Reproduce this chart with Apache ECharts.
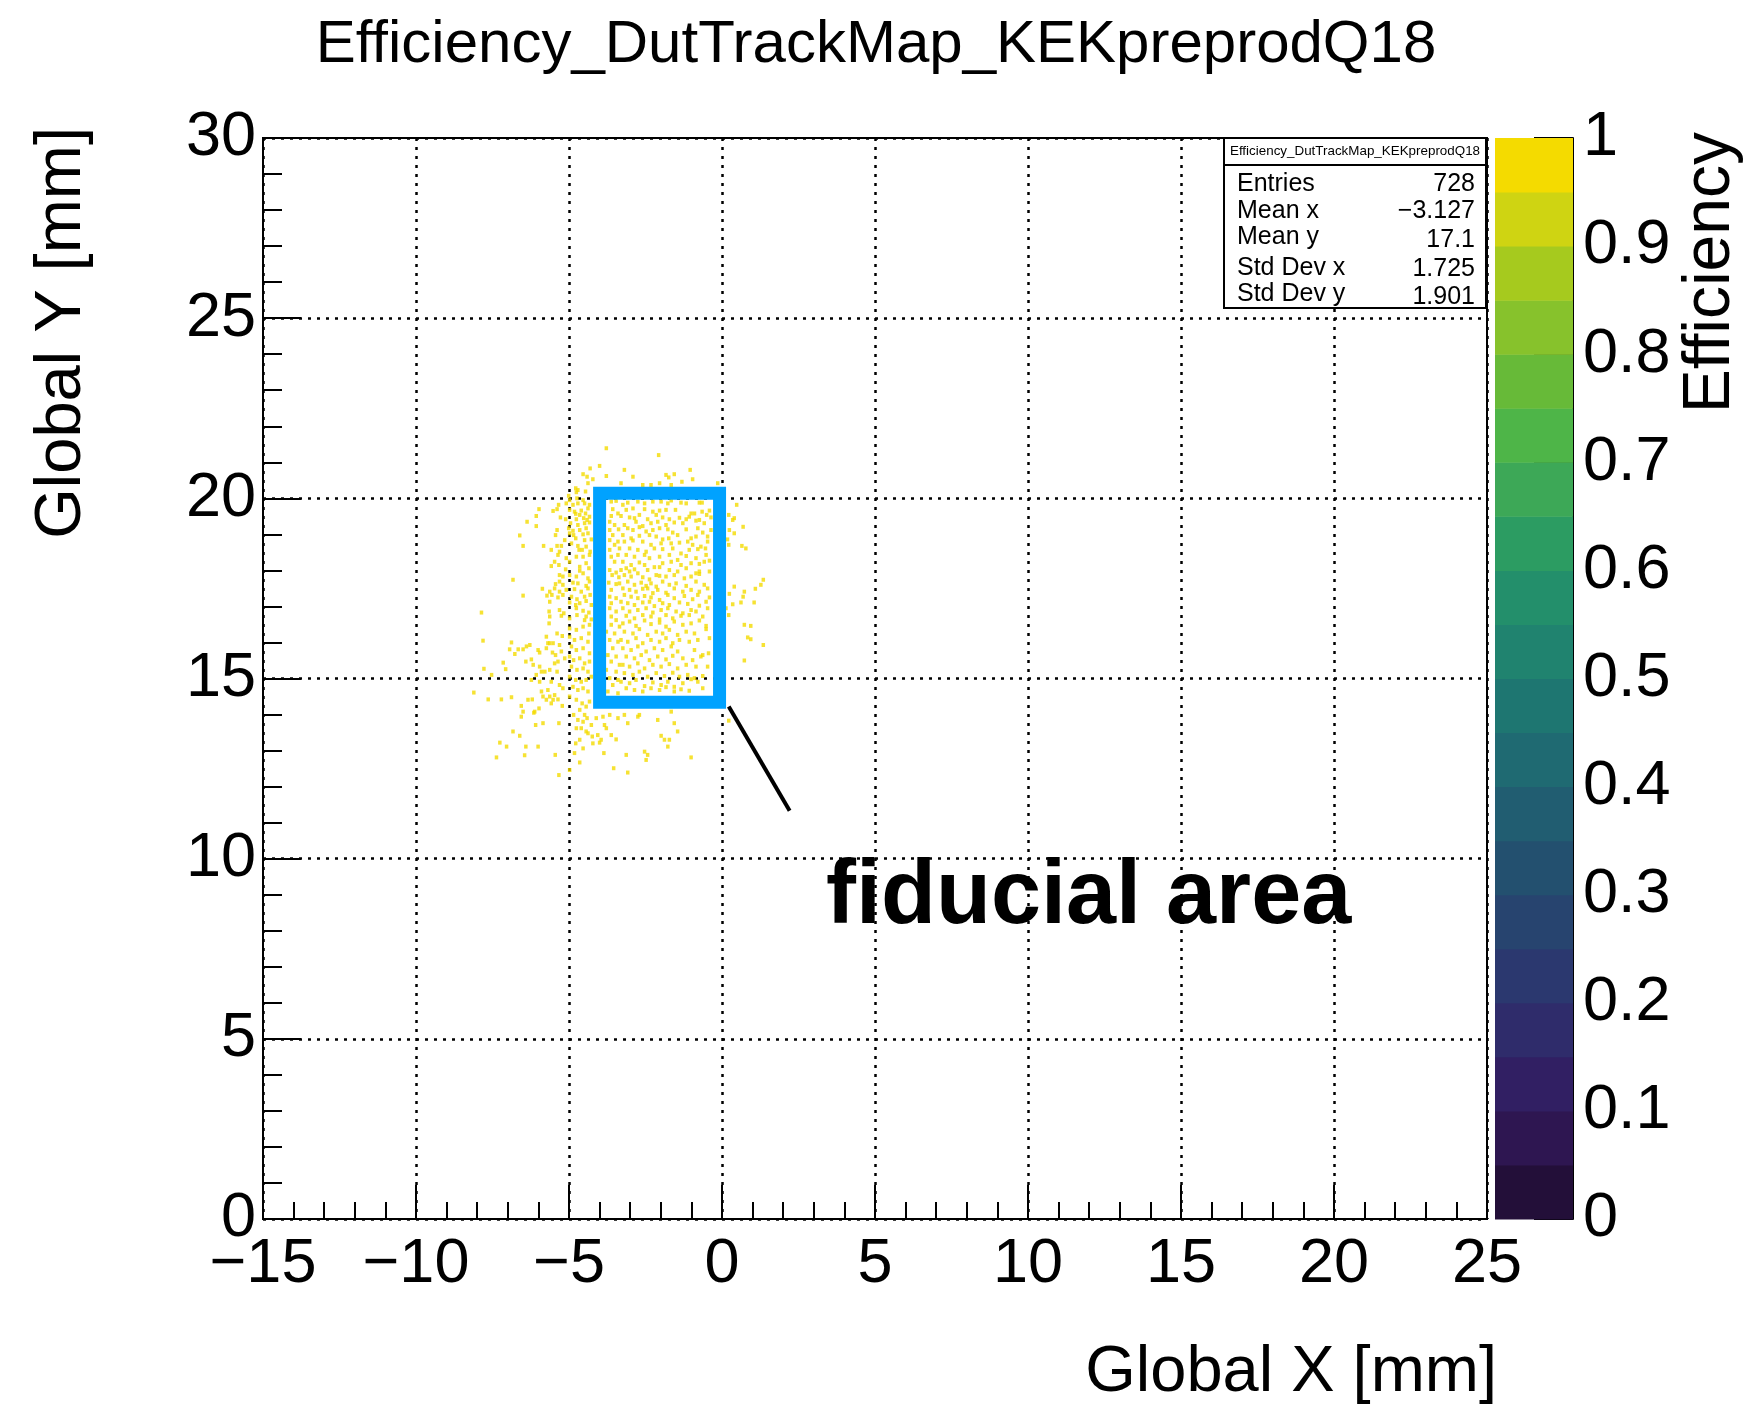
<!DOCTYPE html>
<html>
<head>
<meta charset="utf-8">
<script src="https://cdn.jsdelivr.net/npm/echarts@6/dist/echarts.min.js"></script>
<style>
html, body { margin: 0; padding: 0; background: #fff; }
#chart { width: 1752px; height: 1409px; }
</style>
</head>
<body>
<div id="chart"></div>
<script>
// ---- data ----
const chartTitle = 'Efficiency_DutTrackMap_KEKpreprodQ18';
const xAxisTitle = 'Global X [mm]';
const yAxisTitle = 'Global Y [mm]';
const zAxisTitle = 'Efficiency';
const xRange = [-15, 25];
const yRange = [0, 30];
const zRange = [0, 1];

// colour contour edges and the palette used between them (low -> high)
const efficiencyEdges = [0, 0.05, 0.1, 0.15, 0.2, 0.25, 0.3, 0.35, 0.4, 0.45, 0.5,
                         0.55, 0.6, 0.65, 0.7, 0.75, 0.8, 0.85, 0.9, 0.95, 1];
const palette = ['#230f39', '#2e1651', '#311f63', '#2f2c6b', '#2b386f', '#27446f',
                 '#23506f', '#215d71', '#1f6a72', '#1e7671', '#20836f', '#238f6b',
                 '#2c9c62', '#3da857', '#4eb548', '#67ba38', '#87c22c', '#a6ca1e',
                 '#cfd412', '#f4db00'];

// statistics box
const statsHeader = 'Efficiency_DutTrackMap_KEKpreprodQ18';
const statsLabels = ['Entries', 'Mean x', 'Mean y', 'Std Dev x', 'Std Dev y'];
const statsValues = ['728', '\u22123.127', '17.1', '1.725', '1.901'];

// annotation: fiducial area [xMin, yMin, xMax, yMax] and its pointer line
const fiducialArea = [-4.0, 14.34, -0.08, 20.14];
const pointerLine = [[0.22, 14.22], [2.21, 11.33]];
const fiducialLabel = 'fiducial area';

// all filled bins have full efficiency
const binEfficiency = 1;

// filled bins of the track map (x, y in mm)
const hitBins = [
  [-3.78,21.39],[-4.31,20.83],[-4.00,20.90],[-4.54,20.67],[-4.41,20.60],[-3.78,20.62],[-4.22,20.53],
  [-4.38,20.42],[-4.78,20.28],[-4.71,20.23],[-4.76,20.17],[-4.46,20.19],[-5.01,20.07],[-4.98,19.95],
  [-4.74,20.00],[-4.54,19.95],
  [-5.34,19.82],[-5.09,19.86],[-4.87,19.82],[-4.71,19.86],[-4.49,19.86],[-4.33,19.82],[-3.62,19.91],[-3.46,19.93],
  [-5.98,19.70],[-5.52,19.65],[-5.39,19.70],[-4.98,19.68],[-4.82,19.63],[-4.60,19.66],[-4.38,19.72],[-3.57,19.70],
  [-4.78,19.57],[-4.65,19.54],[-4.46,19.58],[-4.33,19.49],[-3.40,19.58],[-3.62,19.51],
  [-6.07,19.51],[-5.28,19.47],[-5.11,19.42],[-4.76,19.42],[-4.52,19.45],[-4.41,19.40],[-3.67,19.35],
  [-6.37,19.35],[-4.95,19.31],[-4.71,19.26],[-4.49,19.31],[-4.33,19.33],[-3.51,19.26],
  [-6.07,19.23],[-5.39,19.12],[-5.01,19.17],[-4.87,19.10],[-4.65,19.12],[-4.44,19.17],[-3.67,19.12],[-3.38,19.14],
  [-6.61,18.97],[-5.44,18.98],[-4.98,19.03],[-4.85,18.98],[-4.54,19.00],[-4.38,19.03],[-3.57,18.98],
  [-5.14,18.84],[-4.78,18.89],[-4.49,18.84],[-4.27,18.86],[-3.67,18.84],[-3.40,18.80],
  [-6.50,18.68],[-5.83,18.68],[-5.39,18.68],[-5.25,18.68],[-4.92,18.75],[-4.71,18.68],[-4.44,18.66],[-3.51,18.71],
  [-5.58,18.57],[-5.31,18.52],[-4.67,18.57],[-4.57,18.57],[-4.31,18.52],[-3.67,18.57],
  [-5.36,18.43],[-5.09,18.34],[-4.76,18.38],[-4.54,18.38],[-4.33,18.43],[-3.62,18.38],[-3.40,18.43],
  [-5.47,18.24],[-5.33,18.15],[-5.58,18.12],[-4.98,18.24],[-4.65,18.10],[-4.44,18.20],[-3.51,18.24],
  [-5.11,18.03],[-4.65,17.99],[-4.35,18.06],[-3.67,18.01],[-3.46,17.94],
  [-5.31,17.87],[-5.20,17.83],[-4.98,17.87],[-4.76,17.83],[-4.54,17.92],[-4.38,17.78],[-3.59,17.87],[-3.37,17.81],
  [-6.83,17.74],[-5.44,17.62],[-5.31,17.69],[-5.20,17.60],[-4.87,17.66],[-4.71,17.64],[-4.44,17.57],[-4.33,17.69],
  [-3.70,17.66],[-3.46,17.62],
  [-5.87,17.49],[-5.63,17.41],[-5.47,17.50],[-5.31,17.41],[-5.09,17.46],[-4.82,17.48],[-4.60,17.41],[-4.38,17.50],
  [-3.62,17.46],
  [-6.50,17.30],[-5.72,17.30],[-5.56,17.32],[-5.36,17.25],[-5.20,17.32],[-4.92,17.27],[-4.74,17.20],[-4.49,17.27],
  [-4.31,17.32],[-3.67,17.27],[-3.46,17.23],
  [-5.63,17.13],[-4.98,17.11],[-4.78,17.04],[-4.65,17.09],[-4.44,17.15],[-4.27,17.04],[-3.62,17.09],
  [-7.86,16.83],[-5.65,16.86],[-5.31,16.90],[-5.17,16.81],[-4.76,16.95],[-4.54,16.88],[-4.35,16.83],[-3.67,16.95],
  [-3.46,16.86],
  [-5.63,16.72],[-5.25,16.74],[-4.98,16.67],[-4.74,16.76],[-4.44,16.72],[-4.27,16.64],[-3.62,16.72],
  // upper right part
  [-2.07,21.20],[-3.19,20.79],[-2.91,20.60],[-1.83,20.65],[-1.74,20.58],[-1.56,20.67],[-1.04,20.79],[-0.96,20.53],
  [-1.31,20.46],[-1.66,20.37],[-2.04,20.42],[-2.59,20.37],[-3.30,20.42],[-0.14,20.42],[-2.32,20.37],
  [0.48,19.82],[0.40,19.45],[0.35,19.40],[0.22,19.54],[0.69,19.21],[0.24,19.12],[0.40,19.03],[0.18,18.86],
  [0.65,18.68],[0.78,18.61],[0.22,18.71],[1.35,17.74],[1.27,17.60],[0.40,17.55],[0.73,17.41],[1.09,17.49],
  [0.24,17.35],[0.35,17.06],[0.69,17.27],[0.62,17.11],[1.05,17.11],[0.13,16.95],[0.22,16.76],
  [-3.24,19.82],[-3.08,19.88],[-2.75,19.91],[-2.53,19.86],[-2.26,19.91],[-1.99,19.91],[-1.77,19.86],[-1.66,19.94],
  [-1.34,19.88],[-1.17,19.86],[-0.74,19.88],[-0.65,19.88],
  [-3.13,19.68],[-2.91,19.72],[-2.53,19.70],[-2.26,19.63],[-2.04,19.66],[-1.83,19.68],[-1.52,19.68],[-1.01,19.58],
  [-0.41,19.66],[-0.90,19.58],[-0.65,19.63],
  [-3.30,19.51],[-3.02,19.47],[-2.86,19.45],[-2.70,19.54],[-2.43,19.42],[-2.15,19.54],[-1.94,19.47],[-1.72,19.42],
  [-1.39,19.46],[-1.17,19.42],[-1.07,19.49],[-0.74,19.40],[-0.50,19.54],[-0.36,19.47],
  [-3.19,19.26],[-2.81,19.35],[-2.59,19.23],[-2.32,19.31],[-2.10,19.35],[-1.83,19.26],[-1.56,19.33],[-1.28,19.31],
  [-0.85,19.38],[-0.58,19.31],
  [-3.08,19.17],[-2.91,19.12],[-2.70,19.20],[-2.48,19.08],[-2.26,19.12],[-2.04,19.17],[-1.77,19.14],[-1.61,19.05],
  [-1.17,19.14],[-0.79,19.17],[-0.63,19.05],[-0.36,19.12],
  [-3.24,18.98],[-2.97,18.89],[-2.70,18.96],[-2.37,18.98],[-2.15,18.94],[-1.94,18.86],[-1.74,18.89],[-1.45,18.98],
  [-1.01,18.89],[-0.85,18.94],[-0.47,18.94],
  [-3.19,18.80],[-2.91,18.83],[-2.59,18.80],[-2.32,18.71],[-1.99,18.75],[-1.66,18.75],[-1.39,18.77],[-1.12,18.80],
  [-0.96,18.71],[-0.47,18.80],[-0.69,18.66],
  [-3.35,18.61],[-3.02,18.61],[-2.75,18.57],[-2.48,18.52],[-2.21,18.61],[-1.94,18.59],[-1.61,18.61],[-1.34,18.47],
  [-1.07,18.57],[-0.79,18.59],[-0.54,18.61],
  [-3.13,18.43],[-2.86,18.38],[-2.53,18.43],[-2.37,18.34],[-2.04,18.38],[-1.72,18.43],[-1.45,18.29],[-1.17,18.40],
  [-0.85,18.34],[-0.52,18.43],[-0.41,18.27],
  [-3.24,18.24],[-2.97,18.15],[-2.70,18.22],[-2.53,18.15],[-2.21,18.09],[-1.94,18.20],[-1.66,18.24],[-1.34,18.15],
  [-1.01,18.20],[-0.74,18.18],[-0.58,18.24],
  [-3.30,18.01],[-3.02,17.97],[-2.86,18.03],[-3.13,18.06],[-2.43,18.01],[-2.04,18.09],[-1.72,18.01],[-1.45,17.97],
  [-1.17,18.06],[-0.85,17.92],[-0.74,17.97],[-0.41,17.97],
  [-3.19,17.87],[-2.97,17.83],[-2.75,17.92],[-2.59,17.81],[-2.37,17.75],[-2.15,17.87],[-2.04,17.85],[-1.83,17.83],
  [-1.56,17.87],[-1.23,17.78],[-1.01,17.83],[-0.74,17.90],
  [-3.35,17.64],[-3.08,17.69],[-2.86,17.60],[-2.64,17.66],[-2.48,17.57],[-2.32,17.64],[-2.15,17.55],[-1.94,17.69],
  [-1.72,17.60],[-1.50,17.64],[-1.17,17.57],[-0.85,17.69],[-0.58,17.60],
  [-3.24,17.50],[-3.02,17.46],[-2.81,17.41],[-2.59,17.49],[-2.43,17.50],[-2.26,17.37],[-2.10,17.46],[-1.83,17.38],
  [-1.56,17.50],[-1.28,17.41],[-1.01,17.46],[-0.74,17.41],[-0.47,17.50],
  [-3.19,17.32],[-2.97,17.27],[-2.75,17.23],[-2.53,17.29],[-2.32,17.25],[-2.04,17.18],[-1.77,17.32],[-1.56,17.23],
  [-1.23,17.29],[-0.96,17.20],[-0.79,17.32],[-0.41,17.25],
  [-3.30,17.13],[-3.08,17.09],[-2.86,17.04],[-2.59,17.11],[-2.37,17.13],[-2.21,17.01],[-1.94,17.09],[-1.72,17.04],
  [-1.39,17.11],[-1.12,17.07],[-0.74,17.02],[-0.52,17.13],
  [-3.24,16.95],[-3.02,16.86],[-2.75,16.90],[-2.48,16.95],[-2.26,16.83],[-1.99,16.90],[-1.77,16.95],[-1.50,16.86],
  [-1.28,16.81],[-1.01,16.90],[-0.85,16.86],[-0.47,16.95],
  [-3.13,16.74],[-2.86,16.67],[-2.59,16.76],[-2.32,16.72],[-2.04,16.64],[-1.83,16.76],[-1.61,16.67],[-1.34,16.74],
  [-1.07,16.76],[-0.63,16.72],
  // lower left part
  [-7.81,16.05],[-6.88,16.00],[-6.94,15.81],[-6.77,15.68],[-7.15,15.44],[-7.07,15.26],[-7.78,15.27],[-7.53,15.10],
  [-8.11,14.61],[-7.64,14.42],[-7.21,14.42],[-6.88,14.48],[-6.56,14.24],[-6.50,14.08],[-6.61,13.41],[-6.83,13.53],
  [-7.26,13.22],[-7.04,13.11],[-6.41,13.11],[-6.01,13.11],[-7.37,12.81],[-6.45,12.87],[-6.09,13.71],[-5.85,13.76],
  [-5.45,12.88],[-5.33,12.32],
  [-6.66,15.81],[-6.50,15.81],[-6.39,15.89],[-6.28,15.93],[-6.01,15.79],[-5.96,15.72],[-5.74,15.84],[-5.69,15.98],
  [-5.52,15.98],[-5.31,15.93],[-5.54,15.72],[-5.44,15.65],[-5.25,15.75],[-5.14,15.56],[-6.41,15.47],[-6.23,15.53],
  [-6.17,15.38],[-5.96,15.33],[-5.90,15.19],[-6.07,15.10],[-5.79,15.19],[-5.63,15.24],[-5.47,15.42],[-5.36,15.47],
  [-5.39,15.19],[-6.23,14.96],[-5.96,14.91],[-5.58,14.91],[-5.31,14.82],[-5.20,14.73],[-5.69,14.68],[-5.90,14.64],
  [-5.52,14.41],[-5.85,14.50],[-5.74,14.41],[-5.58,14.31],[-5.36,14.42],[-5.22,14.24],[-6.12,14.08],[-5.98,14.17],
  [-5.63,14.50],[-5.47,14.54],[-5.33,13.76],[-6.34,14.41],[-6.20,14.42],[-6.15,14.05],[-6.56,13.94],
  [-5.65,16.53],[-5.39,16.25],[-5.22,16.18],[-5.63,15.98],[-5.74,16.16],
  [-4.49,16.62],[-4.33,16.49],[-4.98,16.39],[-4.76,16.35],[-4.54,16.44],[-4.35,16.25],[-4.98,16.16],[-4.82,16.07],
  [-4.60,16.12],[-4.38,16.02],[-4.92,15.89],[-4.76,15.79],[-4.54,15.84],[-4.33,15.70],[-4.98,15.61],[-4.85,15.51],
  [-4.65,15.56],[-4.49,15.42],[-4.33,15.47],[-4.92,15.33],[-4.74,15.24],[-4.54,15.28],[-4.38,15.19],[-4.98,15.05],
  [-4.78,14.96],[-4.60,14.91],[-4.44,14.96],[-4.27,15.05],[-4.87,14.77],[-4.71,14.68],[-4.54,14.73],[-4.38,14.64],
  [-4.98,14.50],[-4.76,14.41],[-4.57,14.31],[-4.44,14.22],[-4.33,14.36],[-4.65,14.13],[-4.49,13.99],[-4.85,13.99],
  [-4.71,13.85],[-4.54,13.80],[-4.41,13.90],[-4.27,13.71],[-4.76,13.62],[-4.60,13.62],[-4.44,13.53],[-4.65,13.30],
  [-4.78,13.20],[-4.54,13.06],[-4.38,13.48],[-4.24,13.39],[-4.82,12.93],[-4.65,12.67],[-4.98,12.46],
  [-4.11,13.90],[-3.89,13.94],[-3.67,13.99],[-3.40,13.90],[-3.84,13.71],[-4.06,13.43],[-3.95,13.30],[-3.62,13.43],
  [-3.78,13.62],[-3.46,13.31],[-4.22,13.20],[-4.00,13.22],[-3.86,12.93],[-3.54,12.51],
  [-3.46,16.62],[-3.62,16.49],[-3.78,16.30],[-3.51,16.25],[-3.67,16.07],[-3.40,16.02],[-3.57,15.84],[-3.73,15.65],
  [-3.46,15.61],[-3.62,15.47],[-3.78,15.24],[-3.46,15.19],[-3.67,15.01],[-3.40,14.96],[-3.57,14.82],[-3.73,14.64],
  [-3.40,14.59],[-3.35,16.44],[-3.35,15.38],
  // lower right part
  [-3.24,16.53],[-3.02,16.58],[-2.81,16.46],[-2.53,16.61],[-2.32,16.51],[-2.04,16.55],[-1.83,16.44],[-1.56,16.58],
  [-1.28,16.49],[-1.01,16.53],[-0.74,16.61],[-0.52,16.46],
  [-3.19,16.30],[-2.91,16.25],[-2.70,16.37],[-2.43,16.21],[-2.15,16.30],[-1.94,16.25],[-1.72,16.35],[-1.45,16.21],
  [-1.17,16.30],[-0.90,16.25],[-0.52,16.37],
  [-3.30,16.07],[-3.08,16.02],[-2.81,16.12],[-2.59,15.98],[-2.32,16.07],[-2.04,16.02],[-1.83,16.12],[-1.61,15.98],
  [-1.39,16.07],[-1.07,16.02],[-0.79,16.07],[-0.41,16.12],
  [-3.24,15.84],[-2.97,15.79],[-2.75,15.89],[-2.48,15.75],[-2.21,15.84],[-1.94,15.79],[-1.66,15.89],[-1.45,15.75],
  [-0.90,15.79],[-0.63,15.65],[-0.44,15.70],
  [-3.13,15.61],[-2.86,15.56],[-2.64,15.65],[-2.37,15.51],[-2.10,15.61],[-1.83,15.53],[-1.61,15.63],[-1.28,15.56],
  [-0.96,15.51],[-0.69,15.61],
  [-3.24,15.38],[-3.02,15.33],[-2.75,15.42],[-2.53,15.28],[-2.26,15.38],[-1.99,15.33],[-1.72,15.40],[-1.45,15.28],
  [-1.17,15.38],[-0.85,15.33],[-0.47,15.33],
  [-3.19,15.15],[-2.91,15.10],[-2.70,15.19],[-2.43,15.05],[-2.15,15.15],[-1.88,15.07],[-1.61,15.16],[-1.39,15.05],
  [-1.12,15.10],[-0.90,15.01],[-0.63,15.07],
  [-3.30,14.91],[-3.02,14.87],[-2.81,14.96],[-2.53,14.79],[-2.26,14.89],[-1.99,14.82],[-1.77,14.91],[-1.56,14.77],
  [-1.28,14.87],[-1.01,14.98],[-0.79,14.91],
  [-3.13,14.73],[-2.86,14.68],[-2.59,14.64],[-2.32,14.73],[-2.04,14.68],[-1.83,14.76],[-1.56,14.64],[-1.34,14.70],
  [-1.07,14.66],[-0.63,14.73],
  [0.73,16.49],[0.94,16.46],[0.84,16.14],[0.94,16.09],[1.35,15.93],[0.73,15.50],[0.22,13.83],
  [-3.19,13.99],[-3.08,13.76],[-2.75,13.94],[-2.70,13.99],[-2.10,13.85],[-1.66,14.08],[-1.56,13.76],[-1.45,13.53],
  [-1.99,13.41],[-1.72,13.30],[-1.88,13.30],[-1.77,13.11],[-2.53,12.97],[-2.43,12.88],[-2.48,12.74],[-3.13,12.88],
  [-3.08,12.39],[-1.01,12.81]
];

// ---- chart ----
const FONT = '"Liberation Sans", Arial, Helvetica, sans-serif';
const chart = echarts.init(document.getElementById('chart'), null, { renderer: 'canvas' });

const fmtMinus = v => (v < 0 ? '\u2212' + Math.abs(v) : String(v));
const dotted = { color: '#000', width: 2.5, type: [3, 6] };

// statistics box drawn at the top-right corner of the frame
const statsBox = { x: 1224, y: 138, w: 262, h: 170, headerH: 27 };
const statsRowsLabelY = [193, 220, 246, 277, 303];
const statsRowsValueY = [193, 220, 249, 278, 306];
const statsGraphics = [
  { type: 'rect', shape: { x: statsBox.x, y: statsBox.y, width: statsBox.w, height: statsBox.h },
    style: { fill: '#fff', stroke: '#000', lineWidth: 2 }, z: 100 },
  { type: 'line', shape: { x1: statsBox.x, y1: statsBox.y + statsBox.headerH,
                           x2: statsBox.x + statsBox.w, y2: statsBox.y + statsBox.headerH },
    style: { stroke: '#000', lineWidth: 2 }, z: 101 },
  { type: 'text', x: statsBox.x + statsBox.w / 2, y: statsBox.y + statsBox.headerH / 2, z: 101,
    style: { text: statsHeader, font: '13.4px ' + FONT, fill: '#000', align: 'center', verticalAlign: 'middle' } }
];
statsLabels.forEach((lab, i) => {
  statsGraphics.push({ type: 'text', x: 1237, y: statsRowsLabelY[i] - 8.5, z: 101,
    style: { text: lab, font: '25px ' + FONT, fill: '#000', align: 'left', verticalAlign: 'middle' } });
  statsGraphics.push({ type: 'text', x: 1475, y: statsRowsValueY[i] - 8.5, z: 101,
    style: { text: statsValues[i], font: '25px ' + FONT, fill: '#000', align: 'right', verticalAlign: 'middle' } });
});

const visualPieces = palette.map((c, i) => {
  const p = { gte: efficiencyEdges[i], color: c };
  if (i === palette.length - 1) p.lte = efficiencyEdges[i + 1]; else p.lt = efficiencyEdges[i + 1];
  return p;
});

const option = {
  backgroundColor: '#fff',
  animation: false,
  grid: [
    { left: 263, top: 138, right: 265, bottom: 190, show: true, borderColor: '#000', borderWidth: 2,
      backgroundColor: 'transparent' },
    { left: 1495, top: 138, width: 78, bottom: 190, show: false }
  ],
  xAxis: [
    { type: 'value', gridIndex: 0, min: xRange[0], max: xRange[1], interval: 5,
      axisLine: { show: true, onZero: false, lineStyle: { color: '#000', width: 2 } },
      axisTick: { show: true, inside: true, length: 34, lineStyle: { color: '#000', width: 2 } },
      minorTick: { show: true, splitNumber: 5, length: 17, lineStyle: { color: '#000', width: 2 } },
      splitLine: { show: true, lineStyle: dotted },
      axisLabel: { show: true, color: '#000', fontSize: 63, fontFamily: FONT, margin: 14, formatter: fmtMinus }
    },
    { type: 'value', gridIndex: 1, min: 0, max: 1, show: false }
  ],
  yAxis: [
    { type: 'value', gridIndex: 0, min: yRange[0], max: yRange[1], interval: 5,
      axisLine: { show: true, onZero: false, lineStyle: { color: '#000', width: 2 } },
      axisTick: { show: true, inside: true, length: 38, lineStyle: { color: '#000', width: 2 } },
      minorTick: { show: true, splitNumber: 5, length: 19, lineStyle: { color: '#000', width: 2 } },
      splitLine: { show: true, lineStyle: dotted },
      axisLabel: { show: true, color: '#000', fontSize: 63, fontFamily: FONT, margin: 7, formatter: fmtMinus }
    },
    { type: 'value', gridIndex: 1, min: zRange[0], max: zRange[1], interval: 0.1, position: 'right',
      axisLine: { show: true, onZero: false, lineStyle: { color: '#000', width: 2 } },
      axisTick: { show: true, inside: true, length: 39, lineStyle: { color: '#000', width: 2 } },
      splitLine: { show: false },
      axisLabel: { show: true, color: '#000', fontSize: 63, fontFamily: FONT, margin: 10 }
    }
  ],
  visualMap: {
    type: 'piecewise', show: false, seriesIndex: 0, dimension: 2, pieces: visualPieces
  },
  series: [
    {
      name: 'efficiency', type: 'scatter', xAxisIndex: 0, yAxisIndex: 0,
      symbol: 'rect', symbolSize: [3.5, 4], silent: true, z: 3,
      data: hitBins.map(p => [p[0], p[1], binEfficiency])
    },
    {
      name: 'fiducial', type: 'custom', xAxisIndex: 0, yAxisIndex: 0, silent: true, z: 5,
      data: [fiducialArea],
      renderItem: (params, api) => {
        const a = api.coord([api.value(0), api.value(3)]);
        const b = api.coord([api.value(2), api.value(1)]);
        return { type: 'rect', shape: { x: a[0], y: a[1], width: b[0] - a[0], height: b[1] - a[1] },
                 style: { fill: 'none', stroke: '#00a2ff', lineWidth: 13 } };
      }
    },
    {
      name: 'pointer', type: 'line', xAxisIndex: 0, yAxisIndex: 0, silent: true, z: 6,
      data: pointerLine, symbol: 'none', lineStyle: { color: '#000', width: 4 }
    },
    {
      name: 'palette', type: 'custom', xAxisIndex: 1, yAxisIndex: 1, silent: true, z: 1,
      data: palette.map((c, i) => [efficiencyEdges[i], efficiencyEdges[i + 1], i]),
      renderItem: (params, api) => {
        const a = api.coord([0, api.value(1)]);
        const b = api.coord([1, api.value(0)]);
        return { type: 'rect', shape: { x: a[0], y: a[1], width: b[0] - a[0], height: b[1] - a[1] + 0.5 },
                 style: { fill: palette[api.value(2)] } };
      }
    }
  ],
  graphic: [
    { type: 'text', x: 876, y: 45, style: { text: chartTitle, font: '60px ' + FONT, fill: '#000',
      align: 'center', verticalAlign: 'middle' } },
    { type: 'text', x: 1497, y: 1373, style: { text: xAxisTitle, font: '65px ' + FONT, fill: '#000',
      align: 'right', verticalAlign: 'middle' } },
    { type: 'text', x: 62, y: 127, rotation: Math.PI / 2, style: { text: yAxisTitle, font: '65px ' + FONT,
      fill: '#000', align: 'right', verticalAlign: 'middle' } },
    { type: 'text', x: 1711, y: 132, rotation: Math.PI / 2, style: { text: zAxisTitle, font: '66px ' + FONT,
      fill: '#000', align: 'right', verticalAlign: 'middle' } },
    { type: 'text', x: 826, y: 898, z: 50, style: { text: fiducialLabel, font: 'bold 90px ' + FONT,
      fill: '#000', align: 'left', verticalAlign: 'middle' } },
    ...statsGraphics
  ]
};
chart.setOption(option);
</script>
</body>
</html>
